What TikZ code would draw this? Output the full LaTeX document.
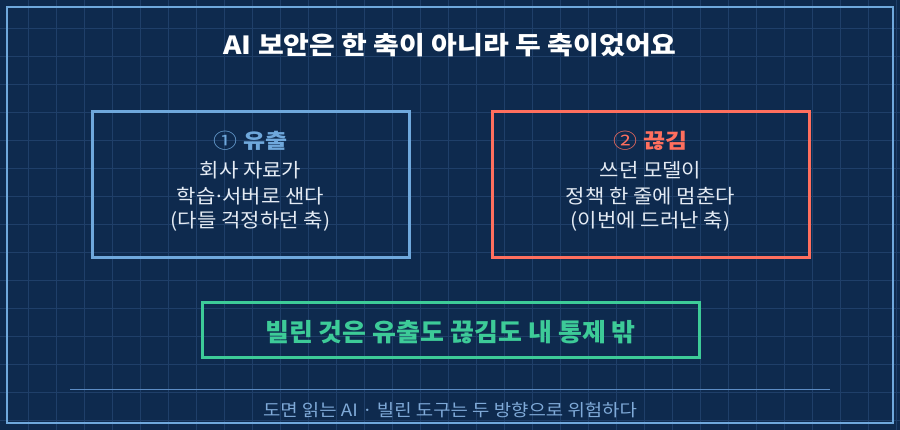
\documentclass[tikz,border=0pt]{standalone}
\usepackage{graphicx}
\usepackage{fontspec}
\setmainfont{Noto Sans CJK KR}
\definecolor{bpBack}{HTML}{0E2A4E}
\definecolor{bpGrid}{HTML}{1F3F69}
\definecolor{bpLine}{HTML}{6FA8DC}
\definecolor{bpCoral}{HTML}{FF6F5E}
\definecolor{bpGreen}{HTML}{3DCB98}
\definecolor{bpText}{HTML}{E4EBF4}
\definecolor{bpFoot}{HTML}{7FAAD8}
\definecolor{bpRule}{HTML}{5C8CC4}
\newcommand{\bpSize}[3]{\scalebox{#2}[1]{\fontsize{#1}{#1}\selectfont #3}}
\newcommand{\bpDot}{\kern-0.12em·\kern-0.12em}
\tikzset{
  axisBox/.style={draw, line width=3pt, minimum width=317pt, minimum height=146pt, inner sep=0pt},
  bpLabel/.style={anchor=base, inner sep=0pt, text=bpText}
}

\begin{document}
\begin{tikzpicture}[x=1pt,y=-1pt]
\fill[bpBack] (0,0) rectangle (900,430);
\useasboundingbox (0,0) rectangle (900,430);
\foreach \gx in {28,56,...,896} \draw[bpGrid] (\gx,0) -- (\gx,430);
\foreach \gy in {28,56,...,420} \draw[bpGrid] (0,\gy) -- (900,\gy);
\draw[bpLine, line width=2pt] (7,7) rectangle (893,423);
\node[bpLabel, text=white] (title) at (450,54.5) {\bpSize{25}{1.12}{\bfseries AI 보안은 한 축이 아니라 두 축이었어요}};
\node[axisBox, draw=bpLine] (leakBox) at (250.5,185) {};
\node[axisBox, draw=bpCoral] (cutBox) at (650.5,185) {};
\node[bpLabel, text=bpLine] (leakHead) at (250.5,149) {\bpSize{20.5}{1.17}{① {\bfseries 유출}}};
\node[bpLabel] (leakA) at (250.5,178) {\bpSize{19.5}{1.08}{회사 자료가}};
\node[bpLabel] (leakB) at (250.5,203.5) {\bpSize{19.5}{1.08}{학습\bpDot 서버로 샌다}};
\node[bpLabel] (leakC) at (250.5,228) {\bpSize{19.5}{1.08}{(다들 걱정하던 축)}};
\node[bpLabel, text=bpCoral] (cutHead) at (650.5,149) {\bpSize{20.5}{1.17}{② {\bfseries 끊김}}};
\node[bpLabel] (cutA) at (650.5,178) {\bpSize{19.5}{1.08}{쓰던 모델이}};
\node[bpLabel] (cutB) at (650.5,203.5) {\bpSize{19.5}{1.08}{정책 한 줄에 멈춘다}};
\node[bpLabel] (cutC) at (650.5,228) {\bpSize{19.5}{1.08}{(이번에 드러난 축)}};
\node[draw=bpGreen, line width=3pt, minimum width=497pt, minimum height=55pt, inner sep=0pt] (ruleBox) at (450.5,330.5) {};
\node[bpLabel, text=bpGreen] (ruleText) at (450.5,342) {\bpSize{25}{1.04}{\bfseries 빌린 것은 유출도 끊김도 내 통제 밖}};
\coordinate (footL) at (70,390);
\coordinate (footR) at (830,390);
\draw[bpRule, line width=1pt] (footL) -- (footR);
\node[bpLabel, text=bpFoot] (footText) at (450,416.5) {\bpSize{17}{1.11}{도면 읽는 AI · 빌린 도구는 두 방향으로 위험하다}};
\end{tikzpicture}
\end{document}
